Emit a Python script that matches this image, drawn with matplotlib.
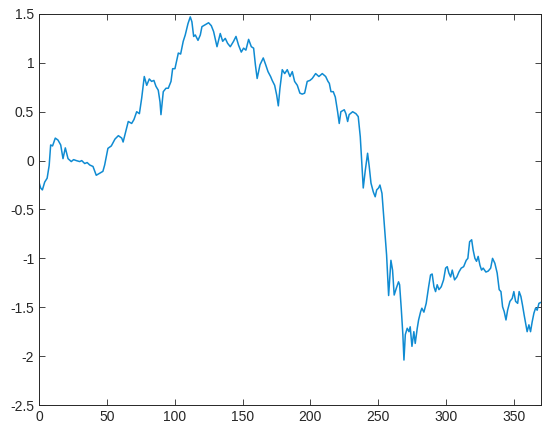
import matplotlib
matplotlib.use('Agg')
import matplotlib.pyplot as plt
from matplotlib.ticker import FuncFormatter

# points (x index, value)
x_vals = [0, 1.2, 2.5, 4.2, 6, 7.5, 8.6, 10, 12, 14, 16, 17.7, 19.4, 21.4, 23.8, 25.5, 27.5, 30,
          31.5, 33.7, 35.5, 37.4, 39.8, 42.2, 44.7, 47.1, 48.4, 50.8, 53.3, 56, 58.5, 61, 62, 65.8,
          68.3, 70, 72, 74, 75.7, 77.6, 79.4, 81.3, 83, 84.7, 86.2, 87.9, 89.2, 89.9, 91.6, 93.6,
          95.3, 97.3, 98.5, 100.2, 102.7, 104.4, 106.3, 107.8, 109.8, 111.5, 112.7, 114, 115.2,
          117.2, 118.9, 120.1, 122.6, 125, 127, 128.7, 131.2, 133.6, 135.4, 137.3, 139, 141, 143.4,
          145.2, 147.1, 149.1, 150.8, 152.5, 154.5, 156.5, 158.2, 159.5, 160.8, 162.9, 165.3, 167.1,
          168.8, 170.7, 171.9, 173.7, 175.2, 176.4, 177.6, 179.3, 181.1, 183, 185, 186.7, 188.4,
          190.4, 192.3, 194, 195.8, 197.7, 199.7, 201.4, 203.9, 206.3, 208.8, 211.3, 213, 214,
          215.2, 216.9, 218.4, 220.1, 221.3, 222.5, 225, 226.2, 227.5, 228.6, 231.2, 233.6, 235.3,
          236.8, 237.8, 239, 240.5, 242.2, 243.4, 244.7, 246.4, 247.8, 248.9, 250.3, 251.3, 252.8,
          253.7, 255, 256.2, 257, 257.7, 259.4, 260.6, 261.8, 263.5, 265, 265.8, 267, 268.2, 269,
          270, 271.4, 272.7, 273.6, 274.9, 276.3, 277.3, 278.8, 279.8, 281.3, 282.2, 283.7, 285.4,
          287.2, 288.6, 289.8, 291.1, 292.3, 293.5, 294.8, 296.5, 298.2, 299.7, 300.9, 302.1,
          303.4, 304.6, 306.3, 308, 309.5, 311.2, 313, 314.9, 316.1, 317.4, 318.9, 320, 321.3,
          322.5, 323.7, 325, 326.2, 327.4, 329.4, 331.1, 332.9, 334.3, 336, 337.7, 339.2, 340.5,
          341.7, 342.9, 344.2, 345.4, 347.1, 348.8, 350, 351.3, 352.8, 353.9, 355.2, 356.4, 357.6,
          358.9, 359.8, 361.1, 362.3, 363.5, 364.8, 366, 367.2, 368.5, 370]
y_vals = [-0.22, -0.28, -0.30, -0.22, -0.18, -0.05, 0.16, 0.15, 0.23, 0.21, 0.16, 0.02, 0.13, 0.02,
          -0.01, 0.01, 0.0, -0.01, 0.0, -0.03, -0.02, -0.045, -0.06, -0.15, -0.13, -0.11, -0.045,
          0.125, 0.15, 0.22, 0.255, 0.23, 0.19, 0.40, 0.38, 0.42, 0.50, 0.48, 0.64, 0.86, 0.77,
          0.835, 0.81, 0.82, 0.76, 0.72, 0.60, 0.47, 0.705, 0.74, 0.74, 0.81, 0.94, 0.94, 1.10,
          1.09, 1.22, 1.285, 1.40, 1.47, 1.42, 1.27, 1.285, 1.23, 1.285, 1.37, 1.39, 1.41, 1.38,
          1.32, 1.165, 1.30, 1.22, 1.25, 1.20, 1.165, 1.22, 1.27, 1.18, 1.11, 1.15, 1.13, 1.24,
          1.165, 1.15, 0.98, 0.84, 0.98, 1.05, 0.98, 0.91, 0.86, 0.82, 0.77, 0.67, 0.56, 0.74,
          0.93, 0.89, 0.93, 0.86, 0.91, 0.81, 0.77, 0.69, 0.68, 0.69, 0.81, 0.82, 0.84, 0.89,
          0.86, 0.89, 0.86, 0.81, 0.79, 0.705, 0.705, 0.65, 0.50, 0.38, 0.50, 0.52, 0.48, 0.40,
          0.47, 0.50, 0.48, 0.45, 0.245, 0.0, -0.28, -0.10, 0.075, -0.06, -0.23, -0.32, -0.37,
          -0.30, -0.28, -0.25, -0.335, -0.505, -0.745, -0.965, -1.19, -1.38, -1.02, -1.12, -1.375,
          -1.30, -1.24, -1.27, -1.51, -1.78, -2.04, -1.78, -1.715, -1.75, -1.70, -1.90, -1.75,
          -1.87, -1.715, -1.63, -1.545, -1.51, -1.55, -1.46, -1.29, -1.17, -1.16, -1.29, -1.34,
          -1.27, -1.32, -1.29, -1.22, -1.10, -1.085, -1.15, -1.19, -1.12, -1.22, -1.19, -1.14,
          -1.10, -1.085, -1.02, -1.0, -0.83, -0.81, -0.915, -1.0, -1.03, -0.98, -1.07, -1.12,
          -1.10, -1.14, -1.13, -1.10, -1.0, -1.05, -1.15, -1.32, -1.34, -1.495, -1.545, -1.63,
          -1.53, -1.44, -1.41, -1.34, -1.44, -1.46, -1.34, -1.39, -1.48, -1.58, -1.68, -1.75,
          -1.68, -1.75, -1.65, -1.56, -1.51, -1.53, -1.46, -1.45]

x_ticks = [0, 50, 100, 150, 200, 250, 300, 350]
y_ticks = [-2.5, -2, -1.5, -1, -0.5, 0, 0.5, 1, 1.5]

plt.rcParams['font.family'] = ['Liberation Sans', 'DejaVu Sans']
plt.rcParams['axes.unicode_minus'] = False

fig = plt.figure(figsize=(5.5, 4.36), dpi=100)
ax = fig.add_axes([0.0709, 0.0711, 0.9127, 0.8969])
ax.plot(x_vals, y_vals, color='#0f8bd2', linewidth=1.1)

ax.set_xlim(0, 370)
ax.set_ylim(-2.5, 1.5)
ax.set_xticks(x_ticks)
ax.set_yticks(y_ticks)
ax.yaxis.set_major_formatter(FuncFormatter(lambda v, p: '%g' % v))
ax.tick_params(direction='in', top=True, right=True, length=4, width=0.6,
               labelsize=10, colors='#262626')
for s in ax.spines.values():
    s.set_linewidth(0.7)
    s.set_color('#262626')

fig.savefig('out.png', dpi=100)
